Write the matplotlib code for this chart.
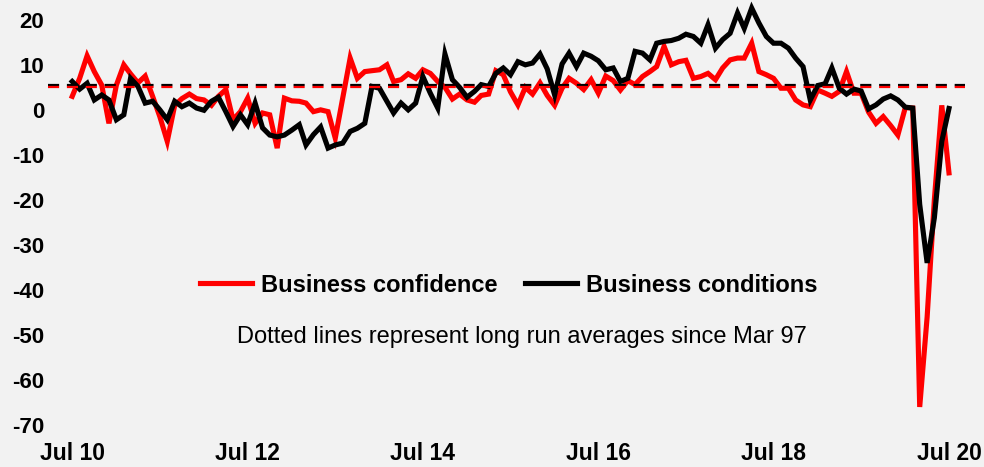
import matplotlib
matplotlib.use("Agg")
import matplotlib.pyplot as plt
import numpy as np
import pandas as pd

# ================= Data (monthly, Jul 2010 - Jul 2020) =================
months = pd.date_range("2010-07-01", "2020-07-01", freq="MS")

confidence = [
    3, 7, 12, 8.5, 5.5, -3, 5.5, 10, 8, 6, 7.5, 3,               # Jul10 - Jun11
    -1.5, -7, 1, 2.5, 3.5, 2.5, 2.2, 1, 3, 4.5, -2.2, -0.4,     # Jul11 - Jun12
    2.6, -3, -0.7, -1.1, -8.5, 2.6, 2, 1.9, 1.5, -0.4, 0, -0.4, # Jul12 - Jun13
    -6.3, 2.6, 11.5, 7, 8.5, 8.7, 8.9, 10, 6.3, 6.7, 8, 7,      # Jul13 - Jun14
    8.9, 8.1, 6.3, 5, 2.4, 3.5, 2.2, 1.7, 3.2, 3.5, 8.7, 7.8,   # Jul14 - Jun15
    4, 1.1, 5, 3.5, 6, 3.2, 1, 4.8, 7, 5.9, 4.5, 6.7,           # Jul15 - Jun16
    3.7, 7.5, 6.5, 4.4, 6.5, 5.6, 7.4, 8.5, 9.6, 14.1, 10, 10.7, # Jul16 - Jun17
    11, 7, 7.4, 8.1, 6.7, 9.3, 11.1, 11.5, 11.5, 14.8, 8.5, 7.8, # Jul17 - Jun18
    7, 4.8, 4.8, 2.2, 1.1, 0.7, 4.4, 3.7, 3, 4.1, 8.5, 3.7,     # Jul18 - Jun19
    3.7, -0.5, -3, -1.5, -3.5, -5.6, 0.5, 0.4, -66, -46, -20, 1, # Jul19 - Jun20
    -14,                                                        # Jul20
]

conditions = [
    6.3, 4.6, 5.9, 2.2, 3.3, 2.2, -2.2, -1.1, 7, 5.2, 1.5, 1.9,
    0, -2.2, 1.9, 0.7, 1.5, 0.4, -0.1, 1.9, 2.8, -0.4, -3.7, -1.1,
    -3.3, 1.5, -4, -5.6, -6, -5.6, -4.5, -3.3, -7.8, -5.5, -3.8, -8.5,
    -7.8, -7.4, -4.8, -4.1, -3, 5.2, 4.8, 1.9, -0.7, 1.5, 0, 1.5,
    7.4, 3.7, 0.4, 12.4, 6.7, 5, 2.8, 4.1, 5.6, 5.2, 8.1, 9.3,
    7.8, 10.7, 10, 10.4, 12.4, 9.1, 3.3, 10.2, 12.6, 9.6, 12.6, 11.9,
    10.9, 8.9, 9.3, 6.3, 7, 13, 12.6, 11.1, 14.8, 15.2, 15.4, 15.9,
    16.8, 16.3, 14.8, 18.9, 13.7, 15.6, 17, 21.5, 18.1, 22.6, 19.3, 16.3,
    14.8, 14.8, 13.7, 11.5, 9.6, 2.2, 5.4, 5.8, 9.3, 4.8, 3.5, 4.6,
    4.2, 0.2, 1.1, 2.4, 3.1, 2.2, 0.6, 0.4, -21, -34, -24, -7,
    0.3,
]

# long run averages since Mar 97
avg_confidence = 5.0
avg_conditions = 5.5

tick_dates = pd.date_range("2010-07-01", "2020-07-01", freq="24MS")
tick_labels = ["Jul 10", "Jul 12", "Jul 14", "Jul 16", "Jul 18", "Jul 20"]
y_ticks = list(range(-70, 21, 10))
# ===============================================

BG = "#f2f2f2"
plt.rcParams["font.family"] = ["Liberation Sans", "DejaVu Sans"]

fig = plt.figure(figsize=(9.84, 4.67), dpi=100, facecolor=BG)
ax = fig.add_axes([0.049, 0.09, 0.932, 0.91], facecolor=BG)

ax.plot(months, confidence, color="#ff0000", linewidth=3.7,
        solid_joinstyle="miter", label="Business confidence", zorder=2)
ax.plot(months, conditions, color="black", linewidth=3.7,
        solid_joinstyle="miter", label="Business conditions", zorder=3)

ax.axhline(avg_conditions, color="black", linewidth=1.6, linestyle=(0, (5, 3.5)), zorder=4)
ax.axhline(avg_confidence, color="#ff0000", linewidth=1.6, linestyle=(0, (5, 3.5)), zorder=4)

ax.set_xlim(months[0] - pd.Timedelta(days=100), months[-1] + pd.Timedelta(days=68))
ax.set_ylim(-70, 24.4)

ax.set_xticks(tick_dates)
ax.set_xticklabels(tick_labels, fontsize=16.5, fontweight="bold")
ax.set_yticks(y_ticks)
ax.set_yticklabels([str(v) for v in y_ticks], fontsize=16, fontweight="bold")
ax.tick_params(axis="both", length=0)
ax.tick_params(axis="x", pad=12)
ax.tick_params(axis="y", pad=3)

for s in ax.spines.values():
    s.set_visible(False)

fig.legend(loc="center", bbox_to_anchor=(0.517, 1 - 285 / 467), ncol=2,
           frameon=False, prop={"size": 17, "weight": "bold"},
           handlelength=2.2, handletextpad=0.35, columnspacing=1.2)

fig.text(0.530, 1 - 337 / 467, "Dotted lines represent long run averages since Mar 97",
         ha="center", va="center", fontsize=17)

fig.savefig("out.png", dpi=100, facecolor=BG)
